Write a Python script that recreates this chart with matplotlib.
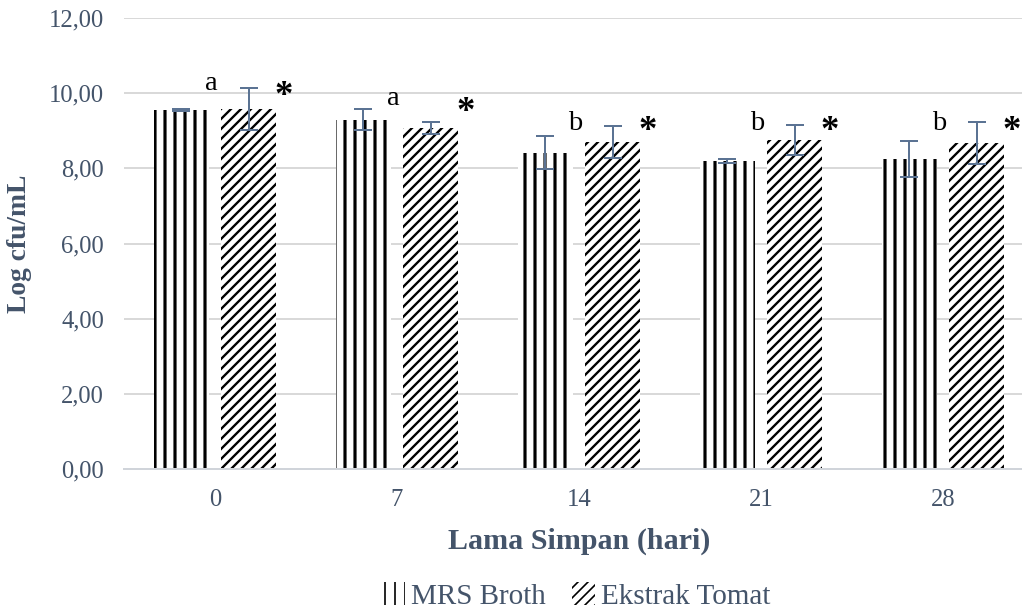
import numpy as np
import matplotlib.pyplot as plt

days = ['0', '7', '14', '21', '28']
mrs = [9.55, 9.29, 8.41, 8.20, 8.25]
mrs_err = [0.02, 0.28, 0.44, 0.05, 0.49]
tomat = [9.58, 9.07, 8.70, 8.75, 8.67]
tomat_err = [0.56, 0.15, 0.42, 0.39, 0.55]
letters = ['a', 'a', 'b', 'b', 'b']
letter_y = [10.08, 9.69, 9.02, 9.02, 9.02]
star_y = [9.91, 9.49, 8.97, 8.97, 8.99]

text_col = '#44546A'
err_col = '#5B7393'

plt.rcParams['font.family'] = ['Liberation Serif', 'DejaVu Serif']

fig = plt.figure(figsize=(1022 / 120, 611 / 120), dpi=120)
ax = fig.add_axes([124 / 1022, 1 - 469 / 611, 910 / 1022, 451 / 611])

x = np.arange(len(days))
w = 0.30
off = 0.185

with plt.rc_context({'hatch.linewidth': 1.9}):
    ax.bar(x - off, mrs, w, color='white', edgecolor='black', linewidth=0,
           hatch='||', label='MRS Broth', zorder=2)
with plt.rc_context({'hatch.linewidth': 1.4}):
    ax.bar(x + off, tomat, w, color='white', edgecolor='black', linewidth=0,
           hatch='////', label='Ekstrak Tomat', zorder=2)

ax.errorbar(x - off, mrs, yerr=mrs_err, fmt='none', ecolor=err_col,
            elinewidth=1.2, capsize=5.5, capthick=1.2, zorder=3)
ax.errorbar(x + off, tomat, yerr=tomat_err, fmt='none', ecolor=err_col,
            elinewidth=1.2, capsize=5.5, capthick=1.2, zorder=3)

for i in range(len(days)):
    ax.text(x[i] - 0.02, letter_y[i], letters[i], ha='center', va='baseline',
            fontsize=17, color='black')
    ax.text(x[i] + 0.38, star_y[i], '*', ha='center', va='center',
            fontsize=22, fontweight='bold', color='black')

ax.set_xlim(-0.5, 4.5)
ax.set_ylim(0, 12)
ax.set_yticks(np.arange(0, 12.1, 2))
ax.set_yticklabels([f'{v:.2f}'.replace('.', ',') for v in np.arange(0, 12.1, 2)])
ax.set_xticks(x)
ax.set_xticklabels(days)
ax.tick_params(axis='both', length=0, labelsize=14.8, labelcolor=text_col)
ax.tick_params(axis='y', pad=12)
ax.tick_params(axis='x', pad=12)

ax.grid(axis='y', color='#D9D9D9', linewidth=1.2, zorder=0)
ax.set_axisbelow(True)
for s in ['top', 'right', 'left']:
    ax.spines[s].set_visible(False)
ax.spines['bottom'].set_color('#D0D4DA')
ax.spines['bottom'].set_linewidth(1.2)

ax.set_xlabel('Lama Simpan (hari)', fontsize=18, fontweight='bold',
              color=text_col, labelpad=10)
ax.set_ylabel('Log cfu/mL', fontsize=16.5, fontweight='bold',
              color=text_col, labelpad=10)

fig.legend(loc='center', bbox_to_anchor=(576 / 1022, 1 - 596 / 611), ncol=2,
           frameon=False, fontsize=17.5, labelcolor=text_col,
           handlelength=0.8, handleheight=0.8, handletextpad=0.2,
           columnspacing=0.9)

fig.savefig('out.png', dpi=120)
